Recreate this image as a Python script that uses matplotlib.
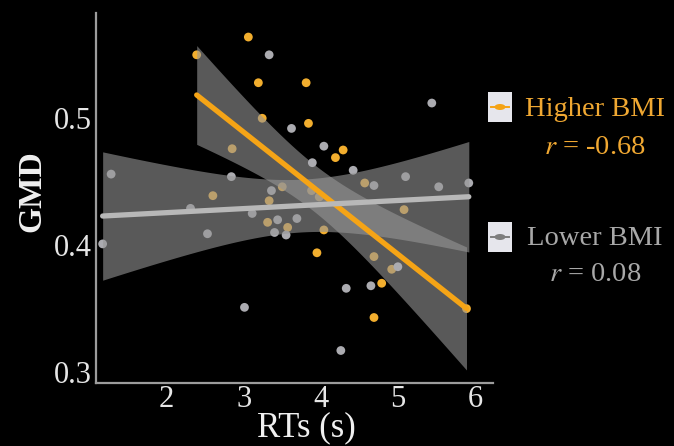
import numpy as np
import matplotlib
matplotlib.use("Agg")
import matplotlib.pyplot as plt
from matplotlib.patches import Rectangle, Ellipse
from matplotlib.lines import Line2D

# ---------------- data ----------------
hi_rt = [2.39, 3.06, 3.19, 3.81, 3.24, 3.84, 2.85, 4.29, 4.19, 2.60, 3.50, 3.33,
         3.88, 4.57, 5.08, 3.31, 3.57, 4.04, 3.95, 4.69, 4.92, 4.79, 4.69, 3.98, 5.89]
hi_gmd = [0.550, 0.564, 0.528, 0.528, 0.500, 0.496, 0.476, 0.475, 0.469, 0.439, 0.446, 0.435,
          0.443, 0.449, 0.428, 0.418, 0.414, 0.412, 0.394, 0.391, 0.381, 0.370, 0.343, 0.438, 0.350]

lo_rt = [3.33, 3.62, 4.04, 3.89, 1.28, 2.84, 3.36, 2.31, 3.11, 3.44, 3.69, 5.44, 4.42,
         5.10, 4.69, 5.53, 5.92, 1.17, 2.53, 3.01, 4.26, 3.40, 3.55, 4.33, 4.65, 5.00]
lo_gmd = [0.550, 0.492, 0.478, 0.465, 0.456, 0.454, 0.443, 0.429, 0.425, 0.420, 0.421, 0.512, 0.459,
          0.454, 0.447, 0.446, 0.449, 0.401, 0.409, 0.351, 0.317, 0.410, 0.408, 0.366, 0.368, 0.383]

groups = ["Higher BMI", "Lower BMI"]
r_labels = ["-0.68", "0.08"]
x_ticks = [2, 3, 4, 5, 6]
y_ticks = [0.3, 0.4, 0.5]
y_tick_labels = ["0.3", "0.4", "0.5"]

ORANGE = "#F5A416"
ORANGE_PT = "#F2AE2E"
GRAY_LINE = "#B8B8B8"
GRAY_PT = "#ABABB0"
BAND = "#969696"

plt.rcParams["font.family"] = ["Liberation Serif", "DejaVu Serif"]
plt.rcParams["mathtext.fontset"] = "stix"


def fit_with_ci(x, y, grid):
    x = np.asarray(x, float)
    y = np.asarray(y, float)
    n = len(x)
    xb, yb = x.mean(), y.mean()
    sxx = np.sum((x - xb) ** 2)
    slope = np.sum((x - xb) * (y - yb)) / sxx
    icpt = yb - slope * xb
    resid = y - (icpt + slope * x)
    s = np.sqrt(np.sum(resid ** 2) / (n - 2))
    df = n - 2
    z = 1.959964
    t = z + (z ** 3 + z) / (4 * df) + (5 * z ** 5 + 16 * z ** 3 + 3 * z) / (96 * df ** 2)
    yhat = icpt + slope * grid
    half = t * s * np.sqrt(1.0 / n + (grid - xb) ** 2 / sxx)
    return yhat, yhat - half, yhat + half


fig = plt.figure(figsize=(6.74, 4.46), dpi=100, facecolor="black")
ax = fig.add_axes([0.142, 0.141, 0.589, 0.830])
ax.set_facecolor("black")

series = [
    (hi_rt, hi_gmd, ORANGE_PT, ORANGE),
    (lo_rt, lo_gmd, GRAY_PT, GRAY_LINE),
]
for xs, ys, pc, lc in series:
    ax.scatter(xs, ys, s=40, color=pc, edgecolors="none", zorder=1)
    grid = np.linspace(min(xs), max(xs), 200)
    yhat, lo, hi = fit_with_ci(xs, ys, grid)
    ax.fill_between(grid, lo, hi, color=BAND, alpha=0.6, linewidth=0, zorder=1)
    ax.plot(grid, yhat, color=lc, linewidth=3.8, solid_capstyle="round", zorder=2)

ax.set_xlim(1.08, 6.23)
ax.set_ylim(0.2913, 0.583)
ax.set_xticks(x_ticks)
ax.set_xticklabels([str(v) for v in x_ticks])
ax.set_yticks(y_ticks)
ax.set_yticklabels(y_tick_labels)
ax.tick_params(axis="both", length=0, labelsize=22, colors="#E6E6E6")
ax.tick_params(axis="x", pad=1)
ax.tick_params(axis="y", pad=3)
for side in ["top", "right"]:
    ax.spines[side].set_visible(False)
for side in ["left", "bottom"]:
    ax.spines[side].set_color("#9C9C9C")
    ax.spines[side].set_linewidth(1.6)

fig.text(0.454, 0.021, "RTs (s)", fontsize=25, color="#F0F0F0",
         ha="center", va="baseline")
fig.text(0.047, 0.572, "GMD", fontsize=24, fontweight="bold", color="#F0F0F0",
         ha="center", va="center", rotation=90)

# ---------------- custom legend ----------------
W, H = 674.0, 446.0
leg = [
    # box top px, label baseline px, r baseline px, text colour, marker colour
    (92, 116, 154, "#F0A832", ORANGE),
    (222, 245, 281, "#A8A8A8", "#7E7E7E"),
]
for (top, lb, rb, tc, mc), name, rv in zip(leg, groups, r_labels):
    box_h = 30
    fig.add_artist(Rectangle((488 / W, 1 - (top + box_h) / H), 24 / W, box_h / H,
                             transform=fig.transFigure, facecolor="#E6E6EC",
                             edgecolor="none"))
    cy = 1 - (top + box_h / 2) / H
    fig.add_artist(Line2D([491 / W, 509 / W], [cy, cy], transform=fig.transFigure,
                          color=mc, linewidth=1.4))
    fig.add_artist(Ellipse((500 / W, cy), 11 / W, 6 / H, transform=fig.transFigure,
                           facecolor=mc, edgecolor="none"))
    fig.text(595 / W, 1 - lb / H, name, fontsize=20.5, color=tc, ha="center", va="baseline")
    fig.text(595 / W, 1 - rb / H, r"$r$ = " + rv, fontsize=20.5, color=tc,
             ha="center", va="baseline")

fig.savefig("out.png", dpi=100, facecolor="black")
